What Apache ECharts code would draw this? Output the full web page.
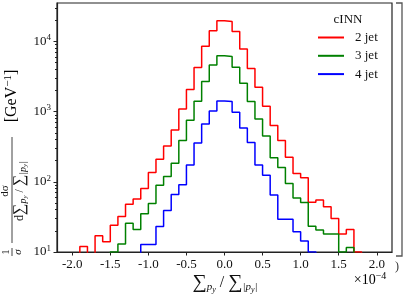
<!DOCTYPE html>
<html><head><meta charset="utf-8">
<script src="https://cdn.jsdelivr.net/npm/echarts@6/dist/echarts.min.js"></script>
<style>html,body{margin:0;padding:0;background:#fff}#c{width:407px;height:299px}</style>
</head><body><div id="c"></div>
<script>
// bin edges (units of 1e-4)
const binEdges = [-2.2,-2.1,-2.0,-1.9,-1.8,-1.7,-1.6,-1.5,-1.4,-1.3,-1.2,-1.1,-1.0,-0.9,-0.8,-0.7,-0.6,-0.5,-0.4,-0.3,-0.2,-0.1,
  0.0,0.1,0.2,0.3,0.4,0.5,0.6,0.7,0.8,0.9,1.0,1.1,1.2,1.3,1.4,1.5,1.6,1.7,1.8,1.9,2.0,2.1,2.2];
// one value per bin (0 = empty bin, below plotted range)
const jet2 = [0,0,0,12,0,17,14,24,32,48,57,80,136,210,323,546,1090,2060,4250,8570,14150,19700,
  19300,13900,7830,4110,2220,1190,637,389,224,131,114,51,55,44,30,18,21,10,0,0,0,0];
const jet3 = [0,0,0,0,0,0,0,10,13,25.6,21,35,49,89,119,184,389,751,1400,2680,4630,6230,
  6110,4290,2540,1390,783,448,220,160,95,59,50.6,23.2,20.6,18.1,18.1,10,11.6,0,0,0,0,0];
const jet4 = [0,0,0,0,0,0,0,0,0,0,0,12.8,12.8,23,39,66,91,173,356,665,1020,1416,
  1390,977,583,364,173,124,65,29.4,29.4,19.5,14.3,10,0,0,0,0,0,0,0,0,0,0];
const seriesNames = ['2 jet','3 jet','4 jet'];
const seriesColors = ['#ff0000','#008000','#0000ff'];
const xTicks = [-2.0,-1.5,-1.0,-0.5,0.0,0.5,1.0,1.5,2.0];
const yTicks = [10,100,1000,10000];
const yMinorTicks = [20,30,40,50,60,70,80,90,200,300,400,500,600,700,800,900,
  2000,3000,4000,5000,6000,7000,8000,9000,20000,30000];
const xRange = [-2.2,2.2];
const yRange = [10,35300];

const FLOOR = 1;
function stepData(vals){
  const d=[];
  for(let i=0;i<vals.length;i++){ d.push([binEdges[i], vals[i]>0?vals[i]:FLOOR]); }
  d.push([binEdges[vals.length], FLOOR]);
  return d;
}
const FONT = 'Liberation Serif';
const INK = '#111';
const chart = echarts.init(document.getElementById('c'), null, {renderer:'canvas'});
const allSeries = [jet2,jet3,jet4].map((v,i)=>({
  name: seriesNames[i], type:'line', step:'end', data: stepData(v),
  showSymbol:false, symbol:'none', clip:true, animation:false,
  color: seriesColors[i], lineStyle:{color:seriesColors[i], width:1.5}
}));
const supRich = {b:{fontFamily:FONT,fontSize:13,color:INK}, s:{fontFamily:FONT,fontSize:9,color:INK,padding:[0,0,7,0]}};
const bigRich = {b:{fontFamily:FONT,fontSize:16,color:INK}, s:{fontFamily:FONT,fontSize:11,color:INK,padding:[0,0,8,0]}};
chart.setOption({
  animation:false,
  grid:{left:57,right:15,top:3,bottom:47,show:true,borderColor:'#222',borderWidth:1.2,backgroundColor:'transparent'},
  xAxis:{type:'value',min:xRange[0],max:xRange[1],
    axisLine:{show:true,onZero:false,lineStyle:{color:'#222',width:1.2}},
    axisTick:{show:true,length:3.5,customValues:xTicks,lineStyle:{color:'#222'}},
    axisLabel:{customValues:xTicks,formatter:v=>v.toFixed(1),fontFamily:FONT,fontSize:13,color:INK,margin:6},
    splitLine:{show:false}},
  yAxis:[{type:'log',logBase:10,min:yRange[0],max:yRange[1],position:'left',
    axisLine:{show:true,onZero:false,lineStyle:{color:'#222',width:1.2}},
    axisTick:{show:true,length:3.5,customValues:yTicks,lineStyle:{color:'#222'}},
    axisLabel:{customValues:yTicks,margin:6,formatter:v=>'{b|10}{s|'+Math.round(Math.log10(v))+'}',rich:supRich},
    splitLine:{show:false},minorTick:{show:false}},
   {type:'log',logBase:10,min:yRange[0],max:yRange[1],position:'left',
    axisLine:{show:false,onZero:false},axisLabel:{show:false},splitLine:{show:false},
    axisTick:{show:true,length:2,customValues:yMinorTicks,lineStyle:{color:'#222'}}}],
  legend:{data:seriesNames,orient:'vertical',left:318,top:31,padding:0,itemWidth:26,itemHeight:2,itemGap:5.3,icon:'rect',
    textStyle:{fontFamily:FONT,fontSize:13,color:INK,padding:[0,0,0,6]}},
  series:allSeries,
  graphic:[
    {type:'text',x:348,y:20,style:{text:'cINN',fontFamily:FONT,fontSize:13,fill:INK,align:'center',verticalAlign:'middle'}},
    {type:'text',x:225,y:283,style:{text:'{s|∑}{p|p}{y|y}{n| / }{s|∑}{p||p}{y|y}{p||}',align:'center',verticalAlign:'middle',
      rich:{s:{fontFamily:FONT,fontSize:20,fill:INK},p:{fontFamily:FONT,fontSize:11,fontStyle:'italic',fill:INK,padding:[9,0,0,0]},
        y:{fontFamily:FONT,fontSize:8,fontStyle:'italic',fill:INK,padding:[13,0,0,0]},n:{fontFamily:FONT,fontSize:16,fill:INK}}}},
    {type:'text',x:370,y:280,style:{text:'{b|×10}{s|−4}',align:'center',verticalAlign:'middle',
      rich:{b:{fontFamily:FONT,fontSize:14,color:INK},s:{fontFamily:FONT,fontSize:10,color:INK,padding:[0,0,7,0]}}}},
    {type:'group',x:12,y:161,rotation:Math.PI/2,children:[
      {type:'text',x:-91,y:-6,style:{text:'1',fontFamily:FONT,fontSize:11,fill:INK,align:'center',verticalAlign:'middle'}},
      {type:'line',shape:{x1:-95,y1:0,x2:-87,y2:0},style:{stroke:INK,lineWidth:0.8}},
      {type:'text',x:-91,y:6,style:{text:'σ',fontFamily:FONT,fontSize:11,fontStyle:'italic',fill:INK,align:'center',verticalAlign:'middle'}},
      {type:'text',x:-30,y:-7,style:{text:'dσ',fontFamily:FONT,fontSize:11,fill:INK,align:'center',verticalAlign:'middle'}},
      {type:'line',shape:{x1:-82,y1:0,x2:24,y2:0},style:{stroke:INK,lineWidth:0.8}},
      {type:'text',x:-30,y:8,style:{text:'{t|d}{s|∑}{p|p}{y|y}{t| / }{s|∑}{p||p}{y|y}{p||}',align:'center',verticalAlign:'middle',
        rich:{t:{fontFamily:FONT,fontSize:12,fill:INK},s:{fontFamily:FONT,fontSize:16,fill:INK},
          p:{fontFamily:FONT,fontSize:10,fontStyle:'italic',fill:INK,padding:[6,0,0,0]},y:{fontFamily:FONT,fontSize:7,fontStyle:'italic',fill:INK,padding:[10,0,0,0]}}}},
      {type:'text',x:65,y:0,style:{text:'{b|[GeV}{s|−1}{b|]}',align:'center',verticalAlign:'middle',rich:bigRich}}
    ]},
    {type:'polyline',shape:{points:[[396,3],[402,3],[402,256],[396,256]]},style:{stroke:'#555',lineWidth:1.3,fill:null}},
    {type:'text',x:397,y:267,style:{text:')',fontFamily:FONT,fontSize:12,fill:'#333',align:'center',verticalAlign:'middle'}}
  ]
});
</script></body></html>
